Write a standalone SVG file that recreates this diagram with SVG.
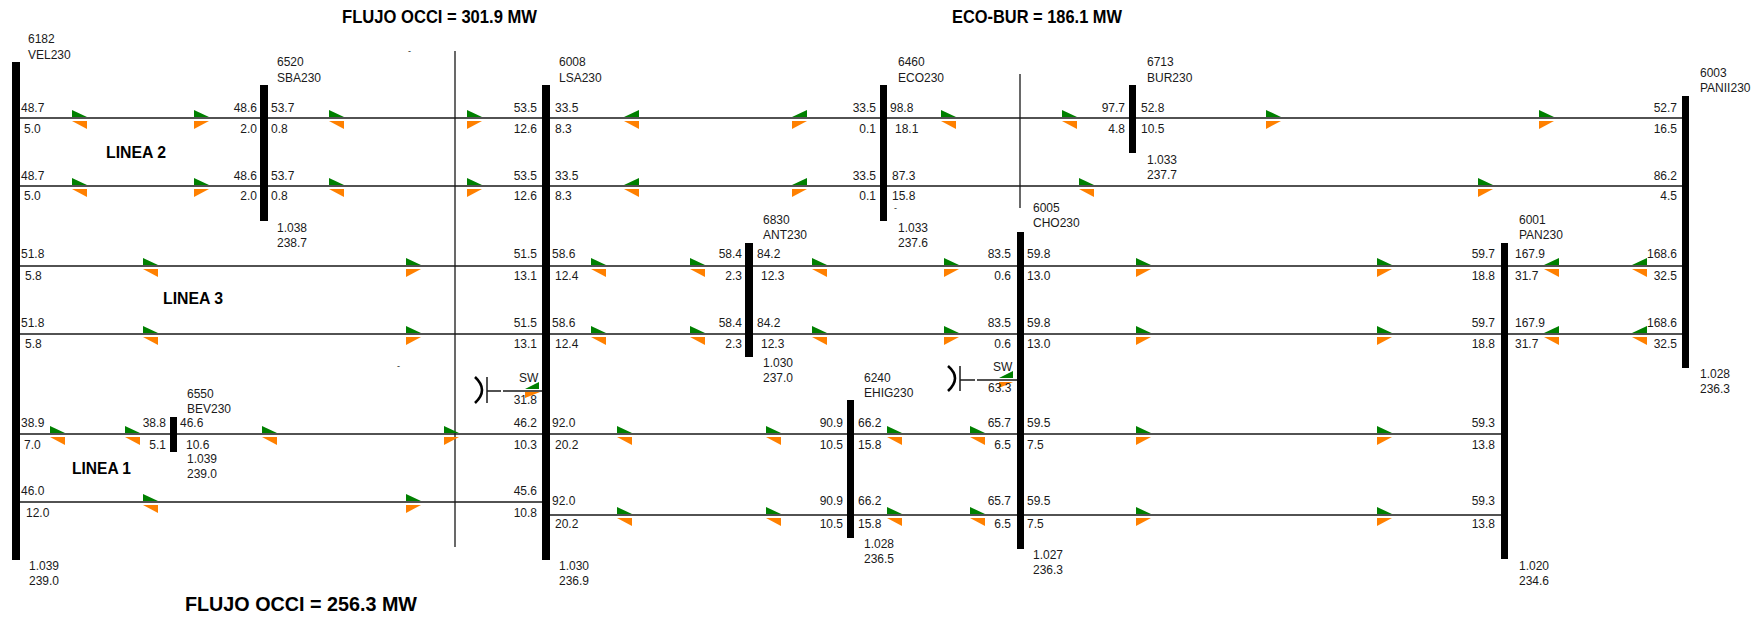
<svg xmlns="http://www.w3.org/2000/svg" xmlns:xlink="http://www.w3.org/1999/xlink" width="1762" height="618" viewBox="0 0 1762 618">
<style>
.bus{fill:#000}
.ln{stroke:#1a1a1a;stroke-width:1.5;fill:none}
.cut{stroke:#1a1a1a;stroke-width:1.3;fill:none}
.sym{stroke:#000;stroke-width:2.6;fill:none}
text{font-family:"Liberation Sans",Arial,sans-serif;font-size:12px;fill:#1a1a1a}
.e{text-anchor:end}
.h{font-weight:bold;fill:#000}
.g{fill:#008000}
.o{fill:#ff8000}
</style>
<defs>
<polygon id="gR" class="g" points="0,-8 0,-1 15,-1"/>
<polygon id="gL" class="g" points="15,-8 15,-1 0,-1"/>
<polygon id="oR" class="o" points="0,3 15,3 0,11"/>
<polygon id="oL" class="o" points="0,3 15,3 15,11"/>
</defs>
<rect width="1762" height="618" fill="#fff"/>

<g id="titles">
<text class="h" x="342" y="23" textLength="195" lengthAdjust="spacingAndGlyphs" style="font-size:18px">FLUJO OCCI = 301.9 MW</text>
<text class="h" x="952" y="23" textLength="170" lengthAdjust="spacingAndGlyphs" style="font-size:18px">ECO-BUR = 186.1 MW</text>
<text class="h" x="185" y="611" textLength="232" lengthAdjust="spacingAndGlyphs" style="font-size:21px">FLUJO OCCI = 256.3 MW</text>
<text class="h" x="106" y="158" textLength="60" lengthAdjust="spacingAndGlyphs" style="font-size:16px">LINEA 2</text>
<text class="h" x="163" y="304" textLength="60" lengthAdjust="spacingAndGlyphs" style="font-size:16px">LINEA 3</text>
<text class="h" x="72" y="474" textLength="59" lengthAdjust="spacingAndGlyphs" style="font-size:16px">LINEA 1</text>
<text x="408" y="54" style="font-size:9px">-</text>
<text x="397" y="369" style="font-size:9px">-</text>
<text x="894" y="211" style="font-size:9px">-</text>
</g>

<g id="connectors">
<path class="ln" d="M20 118H1682M20 186H1682M20 266H1682M20 334H1682M20 434H1501M20 502H542M550 515H1501"/>
<path class="cut" d="M455 51V547M1020 74V208"/>
</g>

<g id="sw-lsa">
<path class="sym" d="M475 377Q489 390 475 403"/>
<path class="ln" d="M487 377V403M487 391H501M503 391H542"/>
<polygon class="g" points="539,382 539,389 525,389"/>
<polygon class="o" points="525,392 540,392 525,398"/>
<text x="519" y="382">SW</text>
<text class="e" x="537" y="404">31.8</text>
</g>
<g id="sw-cho">
<path class="sym" d="M948 366Q962 378 948 391"/>
<path class="ln" d="M960 366V391M960 380H975M977 380H1017"/>
<polygon class="g" points="1013,371 1013,378 999,378"/>
<polygon class="o" points="999,382 1013,382 999,388"/>
<text x="993" y="371">SW</text>
<text x="988" y="392">63.3</text>
</g>

<g id="bus-VEL"><rect class="bus" x="12" y="62" width="8" height="498"/><text x="28" y="43">6182</text><text x="28" y="59">VEL230</text><text x="29" y="570">1.039</text><text x="29" y="585">239.0</text></g>
<g id="bus-SBA"><rect class="bus" x="260" y="85" width="8" height="136"/><text x="277" y="66">6520</text><text x="277" y="82">SBA230</text><text x="277" y="232">1.038</text><text x="277" y="247">238.7</text></g>
<g id="bus-LSA"><rect class="bus" x="542" y="85" width="8" height="475"/><text x="559" y="66">6008</text><text x="559" y="82">LSA230</text><text x="559" y="570">1.030</text><text x="559" y="585">236.9</text></g>
<g id="bus-ECO"><rect class="bus" x="880" y="85" width="7" height="136"/><text x="898" y="66">6460</text><text x="898" y="82">ECO230</text><text x="898" y="232">1.033</text><text x="898" y="247">237.6</text></g>
<g id="bus-BUR"><rect class="bus" x="1129" y="85" width="7" height="68"/><text x="1147" y="66">6713</text><text x="1147" y="82">BUR230</text><text x="1147" y="164">1.033</text><text x="1147" y="179">237.7</text></g>
<g id="bus-ANT"><rect class="bus" x="745" y="243" width="8" height="114"/><text x="763" y="224">6830</text><text x="763" y="239">ANT230</text><text x="763" y="367">1.030</text><text x="763" y="382">237.0</text></g>
<g id="bus-CHO"><rect class="bus" x="1017" y="232" width="7" height="317"/><text x="1033" y="212">6005</text><text x="1033" y="227">CHO230</text><text x="1033" y="559">1.027</text><text x="1033" y="574">236.3</text></g>
<g id="bus-EHIG"><rect class="bus" x="847" y="400" width="7" height="138"/><text x="864" y="382">6240</text><text x="864" y="397">EHIG230</text><text x="864" y="548">1.028</text><text x="864" y="563">236.5</text></g>
<g id="bus-PAN"><rect class="bus" x="1501" y="243" width="7" height="316"/><text x="1519" y="224">6001</text><text x="1519" y="239">PAN230</text><text x="1519" y="570">1.020</text><text x="1519" y="585">234.6</text></g>
<g id="bus-PANII"><rect class="bus" x="1682" y="96" width="7" height="272"/><text x="1700" y="77">6003</text><text x="1700" y="92">PANII230</text><text x="1700" y="378">1.028</text><text x="1700" y="393">236.3</text></g>
<g id="bus-BEV"><rect class="bus" x="170" y="417" width="7" height="35"/><text x="187" y="398">6550</text><text x="187" y="413">BEV230</text><text x="187" y="463">1.039</text><text x="187" y="478">239.0</text></g>

<g id="flow-arrows">
<use href="#gR" x="72" y="118"/><use href="#oL" x="72" y="118"/>
<use href="#gR" x="194" y="118"/><use href="#oR" x="194" y="118"/>
<use href="#gR" x="329" y="118"/><use href="#oL" x="329" y="118"/>
<use href="#gR" x="467" y="118"/><use href="#oR" x="467" y="118"/>
<use href="#gL" x="624" y="118"/><use href="#oL" x="624" y="118"/>
<use href="#gL" x="792" y="118"/><use href="#oR" x="792" y="118"/>
<use href="#gR" x="941" y="118"/><use href="#oL" x="941" y="118"/>
<use href="#gR" x="1062" y="118"/><use href="#oL" x="1062" y="118"/>
<use href="#gR" x="1266" y="118"/><use href="#oR" x="1266" y="118"/>
<use href="#gR" x="1539" y="118"/><use href="#oR" x="1539" y="118"/>

<use href="#gR" x="72" y="186"/><use href="#oL" x="72" y="186"/>
<use href="#gR" x="194" y="186"/><use href="#oR" x="194" y="186"/>
<use href="#gR" x="329" y="186"/><use href="#oL" x="329" y="186"/>
<use href="#gR" x="467" y="186"/><use href="#oR" x="467" y="186"/>
<use href="#gL" x="624" y="186"/><use href="#oL" x="624" y="186"/>
<use href="#gL" x="792" y="186"/><use href="#oR" x="792" y="186"/>
<use href="#gR" x="1079" y="186"/><use href="#oL" x="1079" y="186"/>
<use href="#gR" x="1478" y="186"/><use href="#oR" x="1478" y="186"/>

<use href="#gR" x="143" y="266"/><use href="#oL" x="143" y="266"/>
<use href="#gR" x="406" y="266"/><use href="#oR" x="406" y="266"/>
<use href="#gR" x="591" y="266"/><use href="#oL" x="591" y="266"/>
<use href="#gR" x="690" y="266"/><use href="#oL" x="690" y="266"/>
<use href="#gR" x="812" y="266"/><use href="#oL" x="812" y="266"/>
<use href="#gR" x="944" y="266"/><use href="#oR" x="944" y="266"/>
<use href="#gR" x="1136" y="266"/><use href="#oR" x="1136" y="266"/>
<use href="#gR" x="1377" y="266"/><use href="#oR" x="1377" y="266"/>
<use href="#gL" x="1544" y="266"/><use href="#oL" x="1544" y="266"/>
<use href="#gL" x="1632" y="266"/><use href="#oL" x="1632" y="266"/>

<use href="#gR" x="143" y="334"/><use href="#oL" x="143" y="334"/>
<use href="#gR" x="406" y="334"/><use href="#oR" x="406" y="334"/>
<use href="#gR" x="591" y="334"/><use href="#oL" x="591" y="334"/>
<use href="#gR" x="690" y="334"/><use href="#oL" x="690" y="334"/>
<use href="#gR" x="812" y="334"/><use href="#oL" x="812" y="334"/>
<use href="#gR" x="944" y="334"/><use href="#oR" x="944" y="334"/>
<use href="#gR" x="1136" y="334"/><use href="#oR" x="1136" y="334"/>
<use href="#gR" x="1377" y="334"/><use href="#oR" x="1377" y="334"/>
<use href="#gL" x="1544" y="334"/><use href="#oL" x="1544" y="334"/>
<use href="#gL" x="1632" y="334"/><use href="#oL" x="1632" y="334"/>

<use href="#gR" x="50" y="434"/><use href="#oL" x="50" y="434"/>
<use href="#gR" x="125" y="434"/><use href="#oL" x="125" y="434"/>
<use href="#gR" x="262" y="434"/><use href="#oL" x="262" y="434"/>
<use href="#gR" x="444" y="434"/><use href="#oR" x="444" y="434"/>
<use href="#gR" x="617" y="434"/><use href="#oL" x="617" y="434"/>
<use href="#gR" x="766" y="434"/><use href="#oL" x="766" y="434"/>
<use href="#gR" x="887" y="434"/><use href="#oL" x="887" y="434"/>
<use href="#gR" x="970" y="434"/><use href="#oL" x="970" y="434"/>
<use href="#gR" x="1136" y="434"/><use href="#oR" x="1136" y="434"/>
<use href="#gR" x="1377" y="434"/><use href="#oR" x="1377" y="434"/>

<use href="#gR" x="143" y="502"/><use href="#oL" x="143" y="502"/>
<use href="#gR" x="406" y="502"/><use href="#oR" x="406" y="502"/>
<use href="#gR" x="617" y="515"/><use href="#oL" x="617" y="515"/>
<use href="#gR" x="766" y="515"/><use href="#oL" x="766" y="515"/>
<use href="#gR" x="887" y="515"/><use href="#oL" x="887" y="515"/>
<use href="#gR" x="970" y="515"/><use href="#oL" x="970" y="515"/>
<use href="#gR" x="1136" y="515"/><use href="#oR" x="1136" y="515"/>
<use href="#gR" x="1377" y="515"/><use href="#oR" x="1377" y="515"/>
</g>

<g id="flow-labels">
<text x="21" y="112">48.7</text><text x="24" y="133">5.0</text>
<text class="e" x="257" y="112">48.6</text><text class="e" x="257" y="133">2.0</text>
<text x="271" y="112">53.7</text><text x="271" y="133">0.8</text>
<text class="e" x="537" y="112">53.5</text><text class="e" x="537" y="133">12.6</text>
<text x="555" y="112">33.5</text><text x="555" y="133">8.3</text>
<text class="e" x="876" y="112">33.5</text><text class="e" x="876" y="133">0.1</text>
<text x="890" y="112">98.8</text><text x="895" y="133">18.1</text>
<text class="e" x="1125" y="112">97.7</text><text class="e" x="1125" y="133">4.8</text>
<text x="1141" y="112">52.8</text><text x="1141" y="133">10.5</text>
<text class="e" x="1677" y="112">52.7</text><text class="e" x="1677" y="133">16.5</text>

<text x="21" y="180">48.7</text><text x="24" y="200">5.0</text>
<text class="e" x="257" y="180">48.6</text><text class="e" x="257" y="200">2.0</text>
<text x="271" y="180">53.7</text><text x="271" y="200">0.8</text>
<text class="e" x="537" y="180">53.5</text><text class="e" x="537" y="200">12.6</text>
<text x="555" y="180">33.5</text><text x="555" y="200">8.3</text>
<text class="e" x="876" y="180">33.5</text><text class="e" x="876" y="200">0.1</text>
<text x="892" y="180">87.3</text><text x="892" y="200">15.8</text>
<text class="e" x="1677" y="180">86.2</text><text class="e" x="1677" y="200">4.5</text>

<text x="21" y="258">51.8</text><text x="25" y="280">5.8</text>
<text class="e" x="537" y="258">51.5</text><text class="e" x="537" y="280">13.1</text>
<text x="552" y="258">58.6</text><text x="555" y="280">12.4</text>
<text class="e" x="742" y="258">58.4</text><text class="e" x="742" y="280">2.3</text>
<text x="757" y="258">84.2</text><text x="761" y="280">12.3</text>
<text class="e" x="1011" y="258">83.5</text><text class="e" x="1011" y="280">0.6</text>
<text x="1027" y="258">59.8</text><text x="1027" y="280">13.0</text>
<text class="e" x="1495" y="258">59.7</text><text class="e" x="1495" y="280">18.8</text>
<text x="1515" y="258">167.9</text><text x="1515" y="280">31.7</text>
<text class="e" x="1677" y="258">168.6</text><text class="e" x="1677" y="280">32.5</text>

<text x="21" y="327">51.8</text><text x="25" y="348">5.8</text>
<text class="e" x="537" y="327">51.5</text><text class="e" x="537" y="348">13.1</text>
<text x="552" y="327">58.6</text><text x="555" y="348">12.4</text>
<text class="e" x="742" y="327">58.4</text><text class="e" x="742" y="348">2.3</text>
<text x="757" y="327">84.2</text><text x="761" y="348">12.3</text>
<text class="e" x="1011" y="327">83.5</text><text class="e" x="1011" y="348">0.6</text>
<text x="1027" y="327">59.8</text><text x="1027" y="348">13.0</text>
<text class="e" x="1495" y="327">59.7</text><text class="e" x="1495" y="348">18.8</text>
<text x="1515" y="327">167.9</text><text x="1515" y="348">31.7</text>
<text class="e" x="1677" y="327">168.6</text><text class="e" x="1677" y="348">32.5</text>

<text x="21" y="427">38.9</text><text x="24" y="449">7.0</text>
<text class="e" x="166" y="427">38.8</text><text class="e" x="166" y="449">5.1</text>
<text x="180" y="427">46.6</text><text x="186" y="449">10.6</text>
<text class="e" x="537" y="427">46.2</text><text class="e" x="537" y="449">10.3</text>
<text x="552" y="427">92.0</text><text x="555" y="449">20.2</text>
<text class="e" x="843" y="427">90.9</text><text class="e" x="843" y="449">10.5</text>
<text x="858" y="427">66.2</text><text x="858" y="449">15.8</text>
<text class="e" x="1011" y="427">65.7</text><text class="e" x="1011" y="449">6.5</text>
<text x="1027" y="427">59.5</text><text x="1027" y="449">7.5</text>
<text class="e" x="1495" y="427">59.3</text><text class="e" x="1495" y="449">13.8</text>

<text x="21" y="495">46.0</text><text x="26" y="517">12.0</text>
<text class="e" x="537" y="495">45.6</text><text class="e" x="537" y="517">10.8</text>
<text x="552" y="505">92.0</text><text x="555" y="528">20.2</text>
<text class="e" x="843" y="505">90.9</text><text class="e" x="843" y="528">10.5</text>
<text x="858" y="505">66.2</text><text x="858" y="528">15.8</text>
<text class="e" x="1011" y="505">65.7</text><text class="e" x="1011" y="528">6.5</text>
<text x="1027" y="505">59.5</text><text x="1027" y="528">7.5</text>
<text class="e" x="1495" y="505">59.3</text><text class="e" x="1495" y="528">13.8</text>
</g>
</svg>
